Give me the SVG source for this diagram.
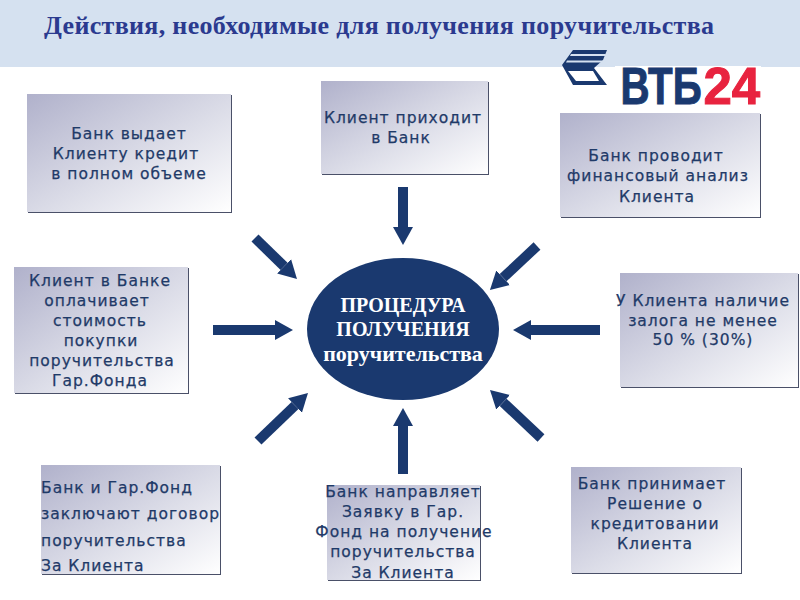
<svg xmlns="http://www.w3.org/2000/svg" width="800" height="600" viewBox="0 0 800 600">
<style>
.box{fill:url(#g)}
.sh{fill:#4a5068}
.t{font-family:"DejaVu Sans",sans-serif;font-size:15.5px;fill:#1f3a68;stroke:#1f3a68;stroke-width:.25;text-anchor:middle;letter-spacing:1px}
.l{text-anchor:start}
.c{font-family:"Liberation Serif",serif;font-weight:bold;font-size:20px;fill:#fff;text-anchor:middle}
.a{stroke:#1a396f;stroke-width:10;fill:none;marker-end:url(#h)}
.v{font-family:"Liberation Sans",sans-serif;font-weight:bold;font-size:51px;stroke-width:1}
</style>
<defs>
<linearGradient id="g" x1="0" y1="0" x2="1" y2="1"><stop offset="0" stop-color="#b0b1cb"/><stop offset=".55" stop-color="#dcdde8"/><stop offset="1" stop-color="#fff"/></linearGradient>
<marker id="h" markerUnits="userSpaceOnUse" markerWidth="20" markerHeight="22" viewBox="0 -11 20 22" refX="0" refY="0" orient="auto"><path d="M0-10L18 0L0 10Z" fill="#1a396f"/></marker>
</defs>
<rect x="0" y="0" width="800" height="67" fill="#d5e1f0"/>
<text x="379" y="34" font-family="Liberation Serif, serif" font-weight="bold" font-size="26" fill="#2b3a8f" text-anchor="middle" textLength="670">Действия, необходимые для получения поручительства</text>
<g id="logo">
<rect x="615" y="66" width="146" height="40" fill="#fff"/>
<path d="M562 65L573 50H607L603 60L594 68L607 85H573Z" fill="#1a396f"/>
<path d="M571 54H606L605 56H570ZM567 60.5H604L602 62.5H566Z" fill="#d5e1f0"/>
<path d="M568 71H593L599 81H576Z" fill="#fff"/>
<text class="v" transform="translate(620.5,104) scale(.79,1)" fill="#1a396f" stroke="#1a396f">ВТБ</text>
<text class="v" x="703.5" y="104" fill="#e8233f" stroke="#e8233f">24</text>
</g>
<g id="connectors">
<line class="a" x1="403" y1="187" x2="403" y2="227"/>
<line class="a" x1="403" y1="474" x2="403" y2="426"/>
<line class="a" x1="213" y1="330" x2="275" y2="330"/>
<line class="a" x1="600" y1="330" x2="531" y2="330"/>
<line class="a" x1="255" y1="238" x2="284.1" y2="266.4"/>
<line class="a" x1="537" y1="246" x2="503.1" y2="277.7"/>
<line class="a" x1="258" y1="441" x2="295" y2="405.5"/>
<line class="a" x1="541" y1="438" x2="503.1" y2="402.3"/>
</g>
<g id="center"><ellipse cx="403" cy="329" rx="96" ry="71" fill="#1a396f"/>
<text class="c" x="403" y="312">ПРОЦЕДУРА</text><text class="c" x="403" y="336">ПОЛУЧЕНИЯ</text><text class="c" x="403" y="361" style="font-size:22px">поручительства</text></g>
<g id="n1"><rect class="sh" x="28" y="95" width="204" height="118"/><rect class="box" x="27" y="94" width="204" height="118"/>
<text class="t" x="129" y="139">Банк выдает</text><text class="t" x="126" y="159">Клиенту кредит</text><text class="t" x="129" y="179">в полном объеме</text></g>
<g id="n2"><rect class="sh" x="322" y="82" width="167" height="93"/><rect class="box" x="321" y="81" width="167" height="93"/>
<text class="t" x="403" y="123">Клиент приходит</text><text class="t" x="401" y="143">в Банк</text></g>
<g id="n3"><rect class="sh" x="561" y="114" width="200" height="104"/><rect class="box" x="560" y="113" width="200" height="104"/>
<text class="t" x="656" y="161">Банк проводит</text><text class="t" x="658" y="181">финансовый анализ</text><text class="t" x="657" y="202">Клиента</text></g>
<g id="n4"><rect class="sh" x="15" y="268" width="174" height="126"/><rect class="box" x="14" y="267" width="174" height="126"/>
<text class="t" x="100" y="286">Клиент в Банке</text><text class="t" x="97" y="306">оплачивает</text><text class="t" x="100" y="326">стоимость</text><text class="t" x="101" y="346">покупки</text><text class="t" x="102" y="366">поручительства</text><text class="t" x="100" y="386">Гар.Фонда</text></g>
<g id="n5"><rect class="sh" x="621" y="274" width="178" height="114"/><rect class="box" x="620" y="273" width="178" height="114"/>
<text class="t" x="703" y="306">У Клиента наличие</text><text class="t" x="703" y="326">залога не менее</text><text class="t" x="703" y="345">50 % (30%)</text></g>
<g id="n6"><rect class="sh" x="42" y="466" width="179" height="109"/><rect class="box" x="41" y="465" width="179" height="109"/>
<text class="t l" x="41" y="493">Банк и Гар.Фонд</text><text class="t l" x="41" y="519">заключают договор</text><text class="t l" x="41" y="546">поручительства</text><text class="t l" x="41" y="571">За Клиента</text></g>
<g id="n7"><rect class="sh" x="328" y="486" width="153" height="95"/><rect class="box" x="327" y="485" width="153" height="95"/>
<text class="t" x="403" y="497">Банк направляет</text><text class="t" x="403" y="517">Заявку в Гар.</text><text class="t" x="404" y="537">Фонд на получение</text><text class="t" x="403" y="557">поручительства</text><text class="t" x="403" y="578">За Клиента</text></g>
<g id="n8"><rect class="sh" x="572" y="468" width="170" height="106"/><rect class="box" x="571" y="467" width="170" height="106"/>
<text class="t" x="652" y="489">Банк принимает</text><text class="t" x="655" y="509">Решение о</text><text class="t" x="655" y="529">кредитовании</text><text class="t" x="655" y="549">Клиента</text></g>
</svg>
